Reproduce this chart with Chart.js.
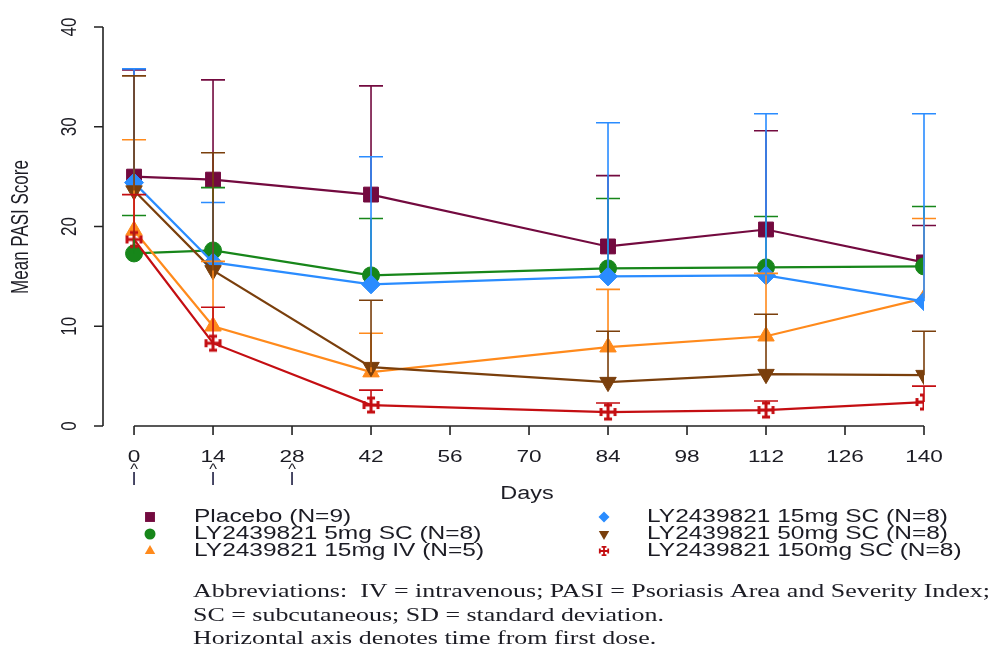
<!DOCTYPE html>
<html>
<head>
<meta charset="utf-8">
<script src="https://cdn.jsdelivr.net/npm/chart.js@4.4.0/dist/chart.umd.min.js"></script>
<style>
  body { margin: 0; background: #fff; }
  canvas { display: block; }
</style>
</head>
<body>
<canvas id="chartContainer" width="993" height="649"></canvas>
<script>
// Data (mean and mean + SD)
const days = [0, 14, 42, 84, 112, 140];
const placebo      = [25.0, 24.7, 23.2, 18.0, 19.7, 16.4];
const placeboUpper = [35.7, 34.7, 34.1, 25.1, 29.6, 20.1];
const sc5          = [17.3, 17.6, 15.1, 15.8, 15.9, 16.0];
const sc5Upper     = [21.1, 23.9, 20.8, 22.8, 21.0, 22.0];
const iv15         = [19.6, 10.0, 5.4, 7.9, 9.0, 12.8];
const iv15Upper    = [28.7, 16.5, 9.3, 13.7, 15.3, 20.8];
const sc15         = [24.4, 16.4, 14.2, 15.0, 15.1, 12.5];
const sc15Upper    = [35.8, 22.4, 27.0, 30.4, 31.3, 31.3];
const sc50         = [23.6, 15.6, 5.9, 4.4, 5.2, 5.1];
const sc50Upper    = [35.1, 27.4, 12.6, 9.5, 11.2, 9.5];
const sc150        = [18.7, 8.3, 2.1, 1.4, 1.6, 2.4];
const sc150Upper   = [23.2, 11.9, 3.6, 2.3, 2.5, 4.0];

const xTicks = [0, 14, 28, 42, 56, 70, 84, 98, 112, 126, 140];
const yTicks = [0, 10, 20, 30, 40];
const doseDays = [0, 14, 28];

const seriesNames = [
    'Placebo (N=9)',
    'LY2439821 5mg SC (N=8)',
    'LY2439821 15mg IV (N=5)',
    'LY2439821 15mg SC (N=8)',
    'LY2439821 50mg SC (N=8)',
    'LY2439821 150mg SC (N=8)'
];
const footnotes = [
    'Abbreviations:  IV = intravenous; PASI = Psoriasis Area and Severity Index;',
    'SC = subcutaneous; SD = standard deviation.',
    'Horizontal axis denotes time from first dose.'
];

const colors = ['#730a3f', '#17861a', '#ff8a1c', '#2a8cff', '#7a3f0c', '#c40e12'];
const TEXT = '#1c1c24';
const SX = 1.36; // the figure is stretched horizontally

// red "cross with caps" marker
function crossMarker(size, lw) {
    const c = document.createElement('canvas');
    c.width = size; c.height = size;
    const g = c.getContext('2d');
    const m = size / 2, a = size / 2 - lw, cap = size * 0.2;
    g.strokeStyle = colors[5];
    g.lineWidth = lw;
    g.beginPath();
    g.moveTo(m, m - a); g.lineTo(m, m + a);
    g.moveTo(m - a, m); g.lineTo(m + a, m);
    g.moveTo(m - cap, m - a); g.lineTo(m + cap, m - a);
    g.moveTo(m - cap, m + a); g.lineTo(m + cap, m + a);
    g.moveTo(m - a, m - cap); g.lineTo(m - a, m + cap);
    g.moveTo(m + a, m - cap); g.lineTo(m + a, m + cap);
    g.stroke();
    return c;
}
const redBig = crossMarker(20, 3);
const redSmall = crossMarker(12, 1.8);

const means = [placebo, sc5, iv15, sc15, sc50, sc150];
const uppers = [placeboUpper, sc5Upper, iv15Upper, sc15Upper, sc50Upper, sc150Upper];
const styles = [
    { pointStyle: 'rect', radius: 10.5, rotation: 0 },
    { pointStyle: 'circle', radius: 8.5, rotation: 0 },
    { pointStyle: 'triangle', radius: 9.5, rotation: 0 },
    { pointStyle: 'rectRot', radius: 9.5, rotation: 0 },
    { pointStyle: 'triangle', radius: 9.5, rotation: 180 },
    { pointStyle: redBig, radius: 9, rotation: 0 }
];
const legendStyles = [
    { pointStyle: 'rect', radius: 7, rotation: 0 },
    { pointStyle: 'circle', radius: 5.5, rotation: 0 },
    { pointStyle: 'triangle', radius: 6, rotation: 0 },
    { pointStyle: 'rectRot', radius: 5.5, rotation: 0 },
    { pointStyle: 'triangle', radius: 6, rotation: 180 },
    { pointStyle: redSmall, radius: 6, rotation: 0 }
];
// drawing order: later series on top
const drawOrder = [6, 5, 4, 3, 2, 1];

function stretchedText(ctx, text, x, y, font, align, sx) {
    ctx.save();
    ctx.font = font;
    ctx.fillStyle = TEXT;
    ctx.textAlign = align;
    ctx.textBaseline = 'middle';
    ctx.translate(x, y);
    ctx.scale(sx, 1);
    ctx.fillText(text, 0, 0);
    ctx.restore();
}

function rotatedText(ctx, text, x, y, font, sx) {
    ctx.save();
    ctx.font = font;
    ctx.fillStyle = TEXT;
    ctx.textAlign = 'center';
    ctx.textBaseline = 'middle';
    ctx.translate(x, y);
    ctx.rotate(-Math.PI / 2);
    ctx.scale(1, sx);
    ctx.fillText(text, 0, 0);
    ctx.restore();
}

// error bars (upper SD only)
const errorBars = {
    id: 'errorBars',
    afterDatasetsDraw(chart) {
        const ctx = chart.ctx;
        const xs = chart.scales.x, ys = chart.scales.y;
        ctx.save();
        ctx.lineWidth = 1.6;
        means.forEach((m, s) => {
            ctx.strokeStyle = colors[s];
            days.forEach((d, i) => {
                const px = xs.getPixelForValue(d);
                const y0 = ys.getPixelForValue(m[i]);
                const y1 = ys.getPixelForValue(uppers[s][i]);
                ctx.beginPath();
                ctx.moveTo(px, y0); ctx.lineTo(px, y1);
                ctx.moveTo(px - 12, y1); ctx.lineTo(px + 12, y1);
                ctx.stroke();
            });
        });
        ctx.restore();
    }
};

// R-style axes, labels, legend and notes
const decorations = {
    id: 'decorations',
    afterDraw(chart) {
        const ctx = chart.ctx;
        const xs = chart.scales.x, ys = chart.scales.y;
        const axisX = xs.getPixelForValue(xs.min);
        const axisY = ys.getPixelForValue(0);
        ctx.save();
        ctx.strokeStyle = '#222';
        ctx.lineWidth = 1.6;
        // y axis
        ctx.beginPath();
        ctx.moveTo(axisX, ys.getPixelForValue(40));
        ctx.lineTo(axisX, ys.getPixelForValue(0));
        yTicks.forEach(v => {
            const py = ys.getPixelForValue(v);
            ctx.moveTo(axisX, py); ctx.lineTo(axisX - 9, py);
        });
        // x axis
        ctx.moveTo(xs.getPixelForValue(0), axisY);
        ctx.lineTo(xs.getPixelForValue(140), axisY);
        xTicks.forEach(v => {
            const px = xs.getPixelForValue(v);
            ctx.moveTo(px, axisY); ctx.lineTo(px, axisY + 9);
        });
        ctx.stroke();
        ctx.restore();

        const sans = '"Liberation Sans", Arial, sans-serif';
        yTicks.forEach(v => rotatedText(ctx, String(v), 70, ys.getPixelForValue(v), '17px ' + sans, 1.3));
        rotatedText(ctx, 'Mean PASI Score', 22, 227, '17px ' + sans, SX);
        xTicks.forEach(v => stretchedText(ctx, String(v), xs.getPixelForValue(v), 457, '17px ' + sans, 'center', 1.33));
        doseDays.forEach(v => {
            const px = xs.getPixelForValue(v);
            stretchedText(ctx, '^', px, 470, '15px ' + sans, 'center', 1.1);
            ctx.save();
            ctx.strokeStyle = '#1c1c40';
            ctx.lineWidth = 1.6;
            ctx.beginPath();
            ctx.moveTo(px, 472); ctx.lineTo(px, 485);
            ctx.stroke();
            ctx.restore();
        });
        stretchedText(ctx, 'Days', 527, 494, '18px ' + sans, 'center', 1.3);

        // legend, two columns
        const rowsY = [517, 534, 551];
        seriesNames.forEach((name, i) => {
            const col = i < 3 ? 0 : 1;
            const row = i % 3;
            const mx = col === 0 ? 150 : 604;
            const tx = col === 0 ? 194 : 647;
            ctx.save();
            ctx.fillStyle = colors[i];
            ctx.strokeStyle = colors[i];
            ctx.lineWidth = 1;
            Chart.helpers.drawPoint(ctx, legendStyles[i], mx, rowsY[row]);
            ctx.restore();
            stretchedText(ctx, name, tx, rowsY[row], '18px ' + sans, 'left', SX);
        });

        const serif = '"Liberation Serif", "Times New Roman", serif';
        ctx.font = '19px ' + serif;
        const fsx = 797 / ctx.measureText(footnotes[0]).width;
        [592, 616, 639].forEach((y, i) => stretchedText(ctx, footnotes[i], 193, y, '19px ' + serif, 'left', fsx));
    }
};

const chart = new Chart(document.getElementById('chartContainer').getContext('2d'), {
    type: 'line',
    data: {
        datasets: means.map((m, s) => ({
            label: seriesNames[s],
            data: days.map((d, i) => ({ x: d, y: m[i] })),
            borderColor: colors[s],
            backgroundColor: colors[s],
            borderWidth: 2.2,
            tension: 0,
            pointStyle: styles[s].pointStyle,
            pointRadius: styles[s].radius,
            pointRotation: styles[s].rotation,
            pointBorderWidth: 1,
            order: drawOrder[s]
        }))
    },
    options: {
        responsive: false,
        animation: false,
        layout: { padding: { left: 103, right: 69, top: 27, bottom: 223 } },
        plugins: { legend: { display: false }, tooltip: { enabled: false } },
        scales: {
            x: { type: 'linear', min: -5.5, max: 140, display: false },
            y: { type: 'linear', min: 0, max: 40, display: false }
        }
    },
    plugins: [errorBars, decorations]
});
</script>
</body>
</html>
